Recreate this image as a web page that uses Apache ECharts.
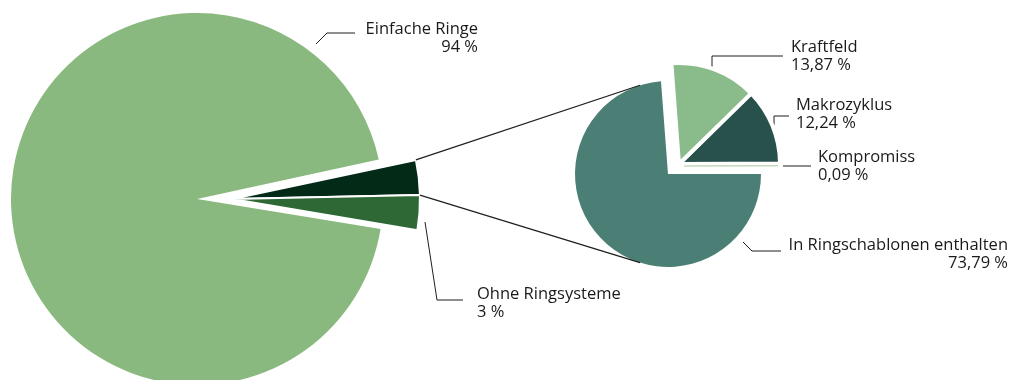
<!DOCTYPE html>
<html><head><meta charset="utf-8">
<script src="https://cdn.jsdelivr.net/npm/echarts@6/dist/echarts.min.js"></script>
<style>html,body{margin:0;padding:0;background:#fff}#c{width:1011px;height:380px}</style>
</head><body><div id="c"></div>
<script>
// ---- data ----
const bigCategories = ['Aufgeschlüsselt', 'Ohne Ringsysteme', 'Einfache Ringe'];
const bigValues = [3, 3, 94];
const smallCategories = ['Kompromiss', 'Makrozyklus', 'Kraftfeld', 'In Ringschablonen enthalten'];
const smallValues = [0.09, 12.24, 13.87, 73.79];

// ---- styles ----
const colors = {
  'Einfache Ringe': '#89b97e',
  'Aufgeschlüsselt': '#032a17',
  'Ohne Ringsysteme': '#2e6835',
  'In Ringschablonen enthalten': '#4b7f76',
  'Kraftfeld': '#8abb8b',
  'Makrozyklus': '#28514c',
  'Kompromiss': '#c3d9bd'
};
const FONT = 'Open Sans';
const LINE = '#1e1e1e';

// label placement (layout only)
const placement = {
  'Einfache Ringe': {x: 478, y: 38, align: 'right', pts: [[316, 44], [327, 33], [355, 33]]},
  'Ohne Ringsysteme': {x: 477, y: 303, align: 'left', pts: [[425, 222], [437, 300], [463, 300]]},
  'Kraftfeld': {x: 791, y: 56, align: 'left', pts: [[712, 67], [712, 56], [783, 56]]},
  'Makrozyklus': {x: 796, y: 114, align: 'left', pts: [[774, 125], [774, 116], [789, 116]]},
  'Kompromiss': {x: 818, y: 166, align: 'left', pts: [[783, 166], [797, 166], [811, 166]]},
  'In Ringschablonen enthalten': {x: 1008, y: 254, align: 'right', pts: [[743, 242], [752, 251], [781, 251]]}
};

const fmt = v => String(v).replace('.', ',');

function pie(names, values, visible, cfg) {
  return {
    type: 'pie',
    center: cfg.center,
    radius: cfg.radius,
    startAngle: cfg.startAngle,
    clockwise: cfg.clockwise,
    avoidLabelOverlap: false,
    emphasis: {disabled: true},
    silent: true,
    z: cfg.z || 2,
    label: {
      show: true, position: 'outside',
      fontFamily: FONT, fontSize: 16.5, lineHeight: 18, color: '#1a1a1a',
      formatter: p => p.name + '\n' + fmt(p.value) + ' %'
    },
    labelLine: {show: true, smooth: false, lineStyle: {color: LINE, width: 1}},
    labelLayout: p => {
      const pl = placement[names[p.dataIndex]];
      if (!pl) return {};
      return {x: pl.x, y: pl.y, align: pl.align, verticalAlign: 'middle', labelLinePoints: pl.pts};
    },
    data: names.map((n, i) => {
      const vis = visible.includes(n);
      const lab = vis && !!placement[n];
      return {
        name: n, value: values[i],
        itemStyle: vis ? Object.assign({color: colors[n]}, cfg.border(n))
                       : {color: 'rgba(0,0,0,0)', borderWidth: 0},
        label: {show: lab},
        labelLine: {show: lab}
      };
    })
  };
}

const bigMain = {center: [197, 199], radius: 186, startAngle: 12.3, clockwise: true,
  border: () => ({borderWidth: 0})};
const bigGroup = {center: [232, 199], radius: 188, startAngle: 12, clockwise: true,
  border: () => ({borderColor: '#fff', borderWidth: 2})};
const smallMain = {center: [668, 174], radius: 93, startAngle: 0, clockwise: false,
  border: () => ({borderWidth: 0})};
const smallGroup = {center: [679, 164], radius: 101, startAngle: 0, clockwise: false,
  border: () => ({borderColor: '#fff', borderWidth: 4})};
const smallSliver = {center: [684, 166], radius: 94, startAngle: 0, clockwise: false, z: 3,
  border: n => ({borderColor: colors[n], borderWidth: 1})};

// connector lines computed from pie geometry
const toRad = d => d * Math.PI / 180;
const ptOn = (c, r, a) => [c[0] + r * Math.cos(toRad(a)), c[1] - r * Math.sin(toRad(a))];
const darkStart = bigGroup.startAngle;
const darkEnd = darkStart - bigValues[0] / bigValues.reduce((a, b) => a + b, 0) * 360;
const c1 = ptOn(bigGroup.center, bigGroup.radius, darkStart);
const c2 = ptOn(bigGroup.center, bigGroup.radius, darkEnd);
const t1 = ptOn(smallMain.center, smallMain.radius, 107.5);
const t2 = ptOn(smallMain.center, smallMain.radius, 252.5);

const chart = echarts.init(document.getElementById('c'), null, {renderer: 'canvas'});
chart.setOption({
  animation: false,
  backgroundColor: '#fff',
  graphic: [
    {type: 'polyline', z: 10, shape: {points: [c1, t1]}, style: {stroke: LINE, lineWidth: 1.2, fill: null}},
    {type: 'polyline', z: 10, shape: {points: [c2, t2]}, style: {stroke: LINE, lineWidth: 1.2, fill: null}}
  ],
  series: [
    pie(bigCategories, bigValues, ['Einfache Ringe'], bigMain),
    pie(bigCategories, bigValues, ['Aufgeschlüsselt', 'Ohne Ringsysteme'], bigGroup),
    pie(smallCategories, smallValues, ['In Ringschablonen enthalten'], smallMain),
    pie(smallCategories, smallValues, ['Kraftfeld', 'Makrozyklus'], smallGroup),
    pie(smallCategories, smallValues, ['Kompromiss'], smallSliver)
  ]
});
</script></body></html>
